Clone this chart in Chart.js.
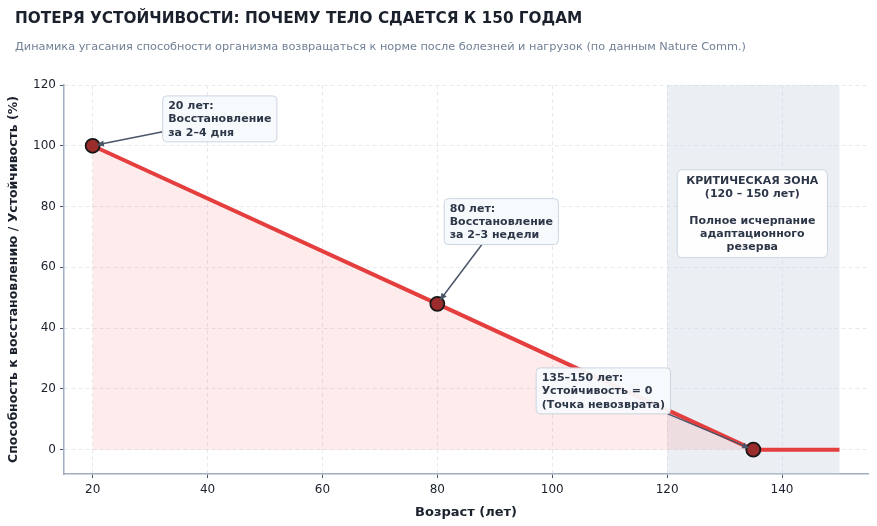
<!DOCTYPE html>
<html>
<head>
<meta charset="utf-8">
<script src="https://cdn.jsdelivr.net/npm/chart.js@4.4.1/dist/chart.umd.min.js"></script>
<style>
  html, body { margin: 0; padding: 0; background: #fff; }
  #wrap { width: 877px; height: 526px; position: relative; }
</style>
</head>
<body>
<div id="wrap"><canvas id="chart"></canvas></div>
<script>
// данные
const ages = [20, 80, 135, 150];
const resilience = [100, 48, 0, 0];
const markerSizes = [7, 7, 7, 0];
const xTicks = [20, 40, 60, 80, 100, 120, 140];
const yTicks = [0, 20, 40, 60, 80, 100, 120];
const criticalZone = [120, 150];

const TITLE = 'ПОТЕРЯ УСТОЙЧИВОСТИ: ПОЧЕМУ ТЕЛО СДАЕТСЯ К 150 ГОДАМ';
const SUBTITLE = 'Динамика угасания способности организма возвращаться к норме после болезней и нагрузок (по данным Nature Comm.)';

// подписи: якорь рамки в единицах данных, точка стрелки
const notes = [
  { lines: ['20 лет:', 'Восстановление', 'за 2–4 дня'], at: [32.2, 116.4], target: [20, 100], from: [0, 0.78] },
  { lines: ['80 лет:', 'Восстановление', 'за 2–3 недели'], at: [81.2, 82.6], target: [80, 48], from: [0.33, 1] },
  { lines: ['135–150 лет:', 'Устойчивость = 0', '(Точка невозврата)'], at: [97.2, 26.9], target: [135, 0], from: [0.98, 1] },
];
const zoneNote = ['КРИТИЧЕСКАЯ ЗОНА', '(120 – 150 лет)', '', 'Полное исчерпание', 'адаптационного', 'резерва'];

const FONT = "'DejaVu Sans', sans-serif";

const zonePlugin = {
  id: 'zone',
  beforeDatasetsDraw(chart) {
    const { ctx, chartArea, scales } = chart;
    const x0 = scales.x.getPixelForValue(criticalZone[0]);
    const x1 = scales.x.getPixelForValue(criticalZone[1]);
    ctx.save();
    ctx.fillStyle = 'rgba(203, 213, 225, 0.38)';
    ctx.fillRect(x0, chartArea.top, x1 - x0, chartArea.bottom - chartArea.top);
    ctx.restore();
  }
};

function roundBox(ctx, x, y, w, h, r, fill, stroke) {
  ctx.beginPath();
  ctx.roundRect(x, y, w, h, r);
  ctx.fillStyle = fill;
  ctx.fill();
  ctx.strokeStyle = stroke;
  ctx.lineWidth = 1;
  ctx.stroke();
}

const notesPlugin = {
  id: 'notes',
  afterDatasetsDraw(chart) {
    const { ctx, scales } = chart;
    const lh = 13.3;
    ctx.save();
    ctx.font = 'bold 11px ' + FONT;
    notes.forEach(n => {
      const bx = scales.x.getPixelForValue(n.at[0]);
      const by = scales.y.getPixelForValue(n.at[1]);
      const tw = Math.max(...n.lines.map(l => ctx.measureText(l).width));
      const bw = tw + 11, bh = n.lines.length * lh + 6;
      // стрелка
      const sx = bx + bw * n.from[0], sy = by + bh * n.from[1];
      const tx = scales.x.getPixelForValue(n.target[0]);
      const ty = scales.y.getPixelForValue(n.target[1]);
      const ang = Math.atan2(ty - sy, tx - sx);
      const ex = tx - Math.cos(ang) * 4, ey = ty - Math.sin(ang) * 4;
      ctx.strokeStyle = '#4a5568';
      ctx.fillStyle = '#4a5568';
      ctx.lineWidth = 1.5;
      ctx.beginPath();
      ctx.moveTo(sx, sy);
      ctx.lineTo(ex - Math.cos(ang) * 6, ey - Math.sin(ang) * 6);
      ctx.stroke();
      ctx.beginPath();
      ctx.moveTo(ex, ey);
      ctx.lineTo(ex - Math.cos(ang - 0.4) * 8, ey - Math.sin(ang - 0.4) * 8);
      ctx.lineTo(ex - Math.cos(ang + 0.4) * 8, ey - Math.sin(ang + 0.4) * 8);
      ctx.closePath();
      ctx.fill();
      // рамка
      roundBox(ctx, bx, by, bw, bh, 4, 'rgba(247, 250, 253, 0.95)', '#cbd5e1');
      ctx.fillStyle = '#2d3748';
      ctx.textAlign = 'left';
      ctx.textBaseline = 'middle';
      n.lines.forEach((l, i) => ctx.fillText(l, bx + 5.5, by + 3 + lh * (i + 0.5) + 0.5));
    });

    // критическая зона
    const cx = scales.x.getPixelForValue((criticalZone[0] + criticalZone[1]) / 2) - 1;
    const cy = scales.y.getPixelForValue(92.1);
    const tw = Math.max(...zoneNote.map(l => ctx.measureText(l).width));
    const bw = tw + 18, bh = zoneNote.length * lh + 8;
    roundBox(ctx, cx - bw / 2, cy, bw, bh, 5, 'rgba(255, 255, 255, 0.92)', '#cbd5e1');
    ctx.fillStyle = '#2d3748';
    ctx.textAlign = 'center';
    ctx.textBaseline = 'middle';
    zoneNote.forEach((l, i) => ctx.fillText(l, cx, cy + 4 + lh * (i + 0.5) + 0.5));
    ctx.restore();
  }
};

const headerPlugin = {
  id: 'header',
  afterDraw(chart) {
    const ctx = chart.ctx;
    ctx.save();
    ctx.textAlign = 'left';
    ctx.textBaseline = 'alphabetic';
    ctx.fillStyle = '#1a202c';
    ctx.font = 'bold 15.3px ' + FONT;
    ctx.fillText(TITLE, 15, 23);
    ctx.fillStyle = '#718096';
    ctx.font = '11.3px ' + FONT;
    ctx.fillText(SUBTITLE, 15, 50);
    ctx.restore();
  }
};

const gridOpts = { color: '#e6eaef', tickLength: 4, tickColor: '#4a5568', tickBorderDash: [], tickWidth: 1 };
const borderOpts = { color: '#a0aec0', width: 1.5, dash: [4, 3] };

new Chart(document.getElementById('chart'), {
  type: 'line',
  data: {
    labels: ages,
    datasets: [{
      data: ages.map((a, i) => ({ x: a, y: resilience[i] })),
      borderColor: '#e53e3e',
      borderWidth: 4,
      backgroundColor: 'rgba(245, 101, 101, 0.13)',
      fill: 'origin',
      tension: 0,
      pointRadius: markerSizes,
      pointHoverRadius: markerSizes,
      pointBackgroundColor: '#9b2c2c',
      pointBorderColor: '#171717',
      pointBorderWidth: 1.8,
    }],
  },
  options: {
    responsive: true,
    maintainAspectRatio: false,
    animation: false,
    layout: { padding: { top: 85, left: 6, right: 7, bottom: 6 } },
    plugins: {
      legend: { display: false },
      tooltip: { enabled: false },
    },
    scales: {
      x: {
        type: 'linear',
        min: 15,
        max: 155,
        afterBuildTicks: s => { s.ticks = xTicks.map(v => ({ value: v })); },
        ticks: { font: { family: FONT, size: 12 }, color: '#1a202c', padding: 5 },
        grid: gridOpts,
        border: borderOpts,
        title: { display: true, text: 'Возраст (лет)', font: { family: FONT, size: 13, weight: 'bold' }, color: '#1a202c', padding: { top: 2, bottom: 0 } },
      },
      y: {
        min: -8,
        max: 120,
        afterBuildTicks: s => { s.ticks = yTicks.map(v => ({ value: v })); },
        ticks: { font: { family: FONT, size: 12 }, color: '#1a202c', padding: 4 },
        grid: gridOpts,
        border: borderOpts,
        title: { display: true, text: 'Способность к восстановлению / Устойчивость (%)', font: { family: FONT, size: 12.5, weight: 'bold' }, color: '#1a202c', padding: { top: 0, bottom: 8 } },
      },
    },
  },
  plugins: [zonePlugin, notesPlugin, headerPlugin],
});
</script>
</body>
</html>
